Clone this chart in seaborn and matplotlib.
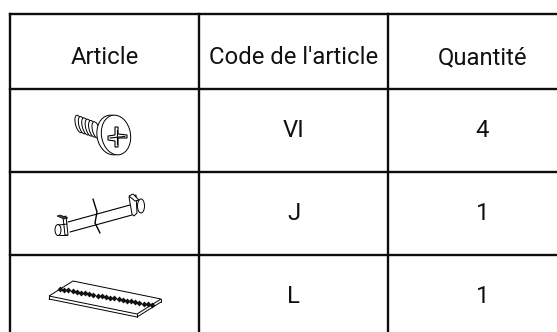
import matplotlib
matplotlib.use('Agg')
import matplotlib.pyplot as plt
from matplotlib.patches import Ellipse, Polygon
import numpy as np
import seaborn as sns

# Table content
headers = ['Article', "Code de l'article", 'Quantité']
codes = ['VI', 'J', 'L']
quantities = ['4', '1', '1']

# Grid lines and text baselines, in pixels of the picture
col_lines = [10, 199, 388, 577]
row_lines = [13.5, 89, 172, 255, 338]
baselines = [64, 137, 220.5, 303]

sns.set_theme(style='white')
plt.rcParams['font.family'] = ['Roboto', 'DejaVu Sans']

fig = plt.figure(figsize=(5.57, 3.32), dpi=100)
ax = fig.add_axes([0, 0, 1, 1])
ax.set_xlim(0, 557)
ax.set_ylim(332, 0)
ax.axis('off')

ink = '#0d0d0d'
for x in col_lines:
    ax.plot([x, x], [row_lines[0], row_lines[-1]], color=ink, lw=1.7, solid_capstyle='projecting')
for y in row_lines:
    ax.plot([col_lines[0], col_lines[-1]], [y, y], color=ink, lw=1.7, solid_capstyle='projecting')

def centre(a, i):
    return (a[i] + a[i + 1]) / 2

# header row
for i, h in enumerate(headers):
    ax.text(centre(col_lines, i), baselines[0], h, ha='center', va='baseline', fontsize=17.2, color='#111111')

# body rows
for r in range(3):
    ax.text(centre(col_lines, 1), baselines[r + 1], codes[r], ha='center', va='baseline', fontsize=17.2, color='#111111')
    ax.text(centre(col_lines, 2), baselines[r + 1], quantities[r], ha='center', va='baseline', fontsize=17.2, color='#111111')

def line(xs, ys, lw=0.7):
    ax.plot(xs, ys, color='black', lw=lw)

# screw icon
for k in range(6):
    ax.add_patch(Ellipse((79 + k * 3.4, 124 + k * 1.2), 7, 18 - k * 0.2, angle=-15, fc='white', ec='black', lw=0.7))
ax.add_patch(Ellipse((112, 135), 30, 40, angle=-10, fc='white', ec='black', lw=0.7))
ax.add_patch(Ellipse((116, 135), 29, 40, angle=-10, fc='white', ec='black', lw=0.7))
ax.add_patch(Polygon([(115, 127), (118, 127), (118, 134), (127, 135), (127, 138), (118, 138), (118, 147), (115, 147),
                      (115, 141), (108, 140), (108, 136), (115, 135)], fc='white', ec='black', lw=0.8))
line([116.5, 116.5], [130, 144], 0.8)
line([110, 125], [138, 136.5], 0.8)

# rod icon
line([68, 130], [222, 205], 0.8)
line([70, 132], [232, 215], 0.8)
line([93, 97, 95, 100], [199, 212, 223, 233], 1.0)
line([59, 67], [225, 224])
line([59, 67], [235, 235])
ax.add_patch(Ellipse((58, 230), 6, 11, fc='white', ec='black', lw=0.7))
ax.add_patch(Polygon([(63, 217), (66, 216), (68, 235), (65, 235)], fc='white', ec='black', lw=0.7))
ax.add_patch(Polygon([(57, 216), (60, 215), (68, 218), (64, 219)], fc='#444444', ec='black', lw=0.5))
ax.add_patch(Ellipse((141, 206), 7, 14, fc='white', ec='black', lw=0.7))
ax.add_patch(Polygon([(129, 197), (136, 195), (137, 213), (134, 216), (132, 214)], fc='white', ec='black', lw=0.7))
ax.add_patch(Polygon([(129, 196), (133, 194), (139, 200), (135, 201)], fc='white', ec='black', lw=0.7))

# connector strip icon
ax.add_patch(Polygon([(49, 296), (73, 281), (161, 299), (137, 314)], fc='white', ec='black', lw=0.7))
line([49, 137, 161], [299, 317, 302], 0.7)
line([49, 49], [296, 299], 0.7)
line([137, 137], [314, 317], 0.7)
line([161, 161], [299, 302], 0.7)
teeth_x = np.linspace(60, 152, 23)
teeth_y = np.linspace(289, 305, 23)
ax.scatter(teeth_x, teeth_y, s=9, marker='D', color='#111111', lw=0)

fig.savefig('out.png', dpi=100)
